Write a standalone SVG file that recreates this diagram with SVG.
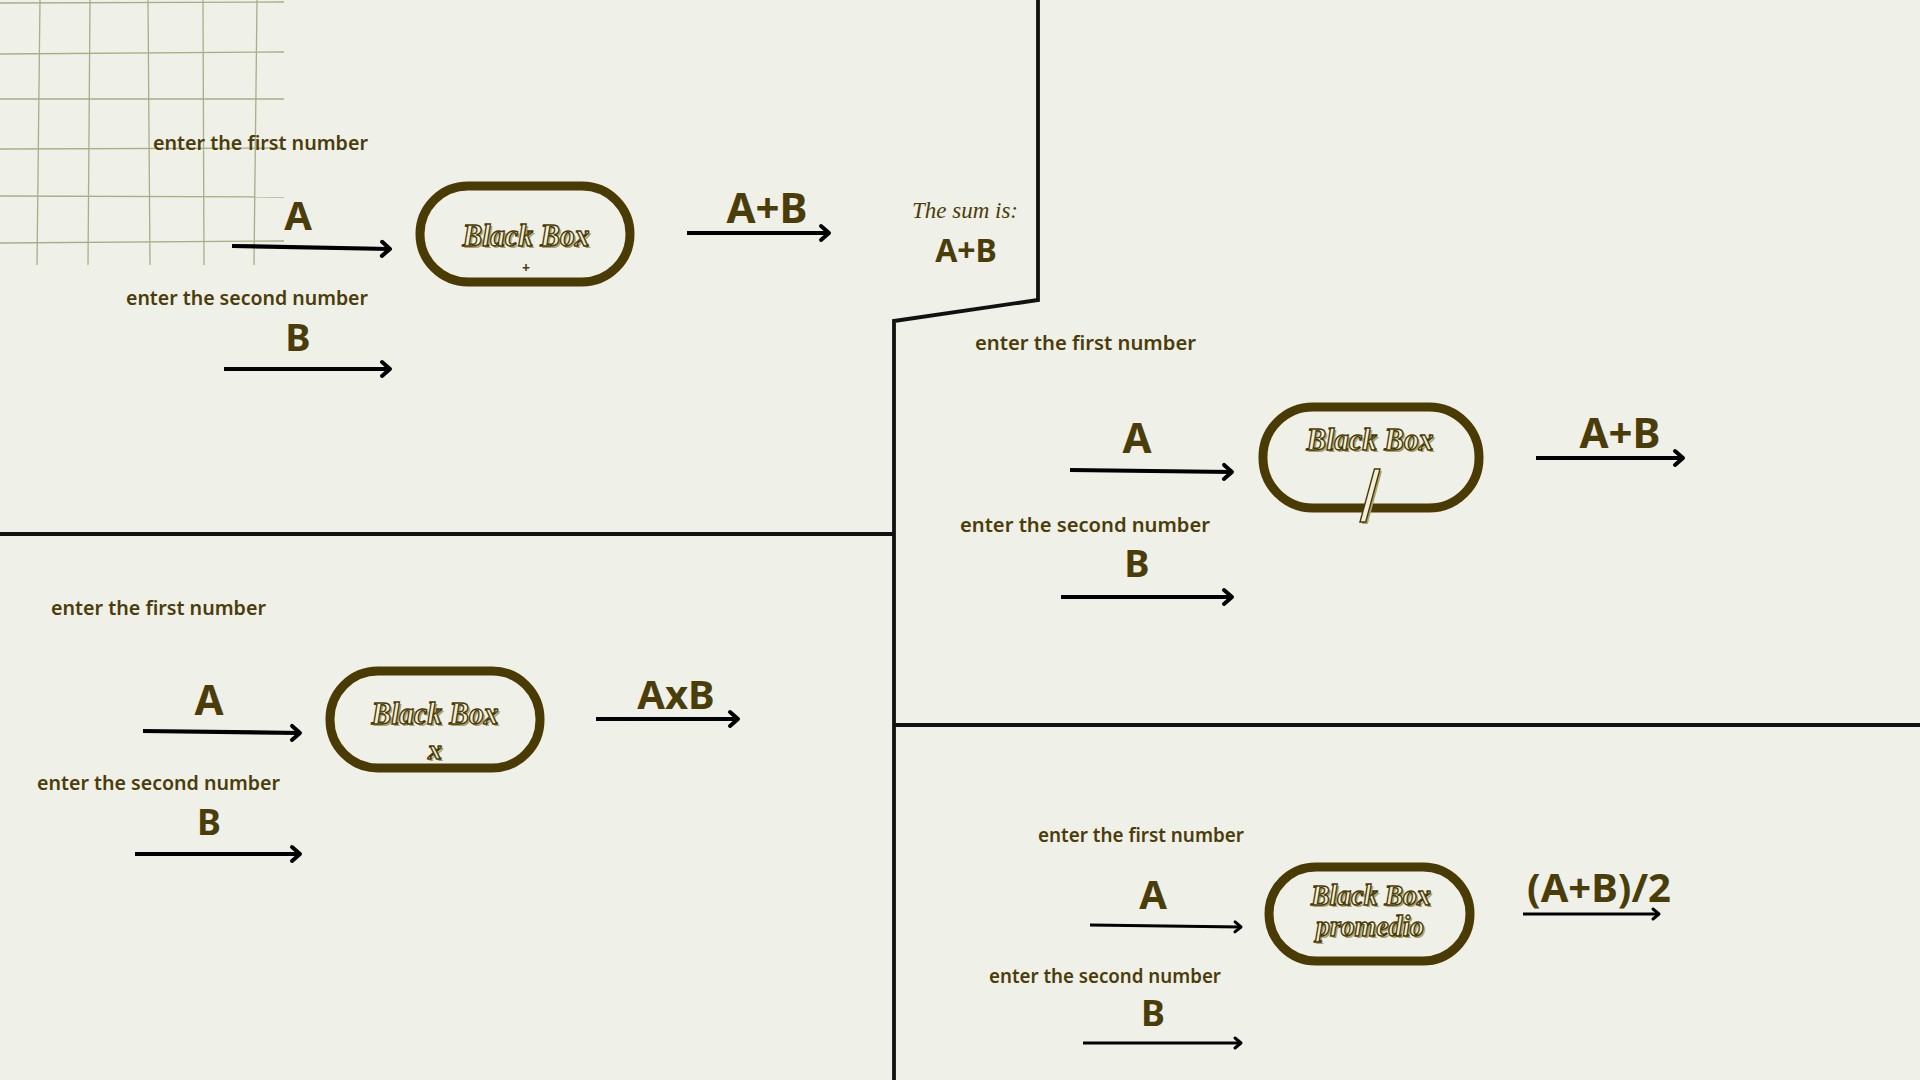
<svg xmlns="http://www.w3.org/2000/svg" width="1920" height="1080" viewBox="0 0 1920 1080">
<defs>
<style>
.bg{fill:#eff0e7}
.grid line{stroke:#a9ae86;stroke-width:1.3}
.div{fill:none;stroke:#111;stroke-width:3.8;stroke-linejoin:miter}
.lbl{font-family:"Noto Sans","DejaVu Sans",sans-serif;font-size:19px;font-weight:600;fill:#4b3d0a}
.big{font-family:"Noto Sans","DejaVu Sans",sans-serif;font-weight:700;fill:#4b3d0a;text-anchor:middle}
.box{fill:none;stroke:#4a3b05;stroke-width:9}
.bbs{font-family:"Liberation Serif","DejaVu Serif",serif;font-style:italic;font-weight:700;fill:#a8a170;text-anchor:middle}
.bb{font-family:"Liberation Serif","DejaVu Serif",serif;font-style:italic;font-weight:700;fill:#f1efdc;stroke:#4a3b05;stroke-width:1.4;text-anchor:middle}
.scr{font-family:"Liberation Serif","DejaVu Serif",serif;font-style:italic;fill:#4b3d0a;text-anchor:middle}
.arr{fill:none;stroke:#000;stroke-width:4.2}
.arr2{fill:none;stroke:#000;stroke-width:3}
</style>
<marker id="ah" markerUnits="userSpaceOnUse" markerWidth="24" markerHeight="24" refX="11" refY="8" orient="auto" overflow="visible">
<path d="M3,1 L11,8 L3,15" fill="none" stroke="#000" stroke-width="4" stroke-linecap="round" stroke-linejoin="round"/>
</marker>
<marker id="ah2" markerUnits="userSpaceOnUse" markerWidth="24" markerHeight="24" refX="9" refY="6" orient="auto" overflow="visible">
<path d="M3,1 L9,6 L3,11" fill="none" stroke="#000" stroke-width="3" stroke-linecap="round" stroke-linejoin="round"/>
</marker>
</defs>
<rect class="bg" x="0" y="0" width="1920" height="1080"/>

<g id="grid" class="grid">
<line x1="40" y1="0" x2="37" y2="265"/>
<line x1="90" y1="0" x2="88" y2="265"/>
<line x1="148" y1="0" x2="150" y2="265"/>
<line x1="203" y1="0" x2="204" y2="265"/>
<line x1="257" y1="0" x2="254" y2="265"/>
<line x1="0" y1="3" x2="284" y2="2"/>
<line x1="0" y1="54" x2="284" y2="52"/>
<line x1="0" y1="99" x2="284" y2="99"/>
<line x1="0" y1="149" x2="284" y2="148"/>
<line x1="0" y1="196" x2="284" y2="197"/>
<line x1="0" y1="243" x2="284" y2="241"/>
</g>

<g id="dividers">
<path class="div" d="M1038,0 L1038,300 L894,321 L894,1080"/>
<line class="div" x1="0" y1="534" x2="894" y2="534"/>
<line class="div" x1="894" y1="725" x2="1920" y2="725"/>
</g>

<g id="connectors">
<line class="arr" x1="232" y1="246" x2="390" y2="249" marker-end="url(#ah)"/>
<line class="arr" x1="224" y1="369" x2="390" y2="369" marker-end="url(#ah)"/>
<line class="arr" x1="687" y1="233" x2="829" y2="233" marker-end="url(#ah)"/>
<line class="arr" x1="1070" y1="470" x2="1232" y2="472" marker-end="url(#ah)"/>
<line class="arr" x1="1061" y1="597" x2="1232" y2="597" marker-end="url(#ah)"/>
<line class="arr" x1="1536" y1="458" x2="1683" y2="458" marker-end="url(#ah)"/>
<line class="arr" x1="143" y1="731" x2="300" y2="733" marker-end="url(#ah)"/>
<line class="arr" x1="135" y1="854" x2="300" y2="854" marker-end="url(#ah)"/>
<line class="arr" x1="596" y1="719" x2="738" y2="719" marker-end="url(#ah)"/>
<line class="arr2" x1="1090" y1="925" x2="1241" y2="927" marker-end="url(#ah2)"/>
<line class="arr2" x1="1083" y1="1043" x2="1241" y2="1043" marker-end="url(#ah2)"/>
<line class="arr2" x1="1523" y1="914" x2="1659" y2="914" marker-end="url(#ah2)"/>
</g>

<g id="sum-panel">
<text class="lbl" x="153" y="150" textLength="215" lengthAdjust="spacingAndGlyphs">enter the first number</text>
<text class="big" x="298" y="230" font-size="40">A</text>
<text class="lbl" x="126" y="305" textLength="242" lengthAdjust="spacingAndGlyphs">enter the second number</text>
<text class="big" x="298" y="351" font-size="38">B</text>
<g id="box-sum">
<rect class="box" x="420" y="186" width="210" height="96" rx="48"/>
<text class="bbs" x="528" y="248" font-size="31" textLength="127" lengthAdjust="spacingAndGlyphs">Black Box</text>
<text class="bb" x="526" y="246" font-size="31" textLength="127" lengthAdjust="spacingAndGlyphs">Black Box</text>
<text class="big" x="526" y="273" font-size="14">+</text>
</g>
<text class="big" x="767" y="223" font-size="42">A+B</text>
<text class="scr" x="965" y="218" font-size="23">The sum is:</text>
<text class="big" x="966" y="262" font-size="32">A+B</text>
</g>

<g id="div-panel">
<text class="lbl" x="975" y="350" textLength="221" lengthAdjust="spacingAndGlyphs">enter the first number</text>
<text class="big" x="1137" y="453" font-size="42">A</text>
<text class="lbl" x="960" y="532" textLength="250" lengthAdjust="spacingAndGlyphs">enter the second number</text>
<text class="big" x="1137" y="577" font-size="38">B</text>
<g id="box-div">
<rect class="box" x="1263" y="407" width="216" height="101" rx="50"/>
<text class="bbs" x="1372" y="452" font-size="31" textLength="127" lengthAdjust="spacingAndGlyphs">Black Box</text>
<text class="bb" x="1370" y="450" font-size="31" textLength="127" lengthAdjust="spacingAndGlyphs">Black Box</text>
<text class="bbs" x="1362" y="523" font-size="72" style="font-style:normal;font-family:'Liberation Sans',sans-serif;text-anchor:start;font-weight:400">/</text>
<text class="bb" x="1360" y="521" font-size="72" style="font-style:normal;font-family:'Liberation Sans',sans-serif;text-anchor:start;font-weight:400">/</text>
</g>
<text class="big" x="1620" y="448" font-size="42">A+B</text>
</g>

<g id="mul-panel">
<text class="lbl" x="51" y="615" textLength="215" lengthAdjust="spacingAndGlyphs">enter the first number</text>
<text class="big" x="209" y="715" font-size="42">A</text>
<text class="lbl" x="37" y="790" textLength="243" lengthAdjust="spacingAndGlyphs">enter the second number</text>
<text class="big" x="209" y="835" font-size="36">B</text>
<g id="box-mul">
<rect class="box" x="330" y="671" width="210" height="97" rx="48"/>
<text class="bbs" x="437" y="726" font-size="31" textLength="127" lengthAdjust="spacingAndGlyphs">Black Box</text>
<text class="bb" x="435" y="724" font-size="31" textLength="127" lengthAdjust="spacingAndGlyphs">Black Box</text>
<text class="bbs" x="437" y="761" font-size="28">x</text>
<text class="bb" x="435" y="759" font-size="28">x</text>
</g>
<text class="big" x="676" y="709" font-size="40">AxB</text>
</g>

<g id="avg-panel">
<text class="lbl" x="1038" y="842" textLength="206" lengthAdjust="spacingAndGlyphs">enter the first number</text>
<text class="big" x="1153" y="909" font-size="40">A</text>
<text class="lbl" x="989" y="983" textLength="232" lengthAdjust="spacingAndGlyphs">enter the second number</text>
<text class="big" x="1153" y="1026" font-size="36">B</text>
<g id="box-avg">
<rect class="box" x="1269" y="867" width="201" height="94" rx="47"/>
<text class="bbs" x="1373" y="907" font-size="29" textLength="120" lengthAdjust="spacingAndGlyphs">Black Box</text>
<text class="bb" x="1371" y="905" font-size="29" textLength="120" lengthAdjust="spacingAndGlyphs">Black Box</text>
<text class="bbs" x="1372" y="938" font-size="29" textLength="108" lengthAdjust="spacingAndGlyphs">promedio</text>
<text class="bb" x="1370" y="936" font-size="29" textLength="108" lengthAdjust="spacingAndGlyphs">promedio</text>
</g>
<text class="big" x="1599" y="902" font-size="40">(A+B)/2</text>
</g>
</svg>
